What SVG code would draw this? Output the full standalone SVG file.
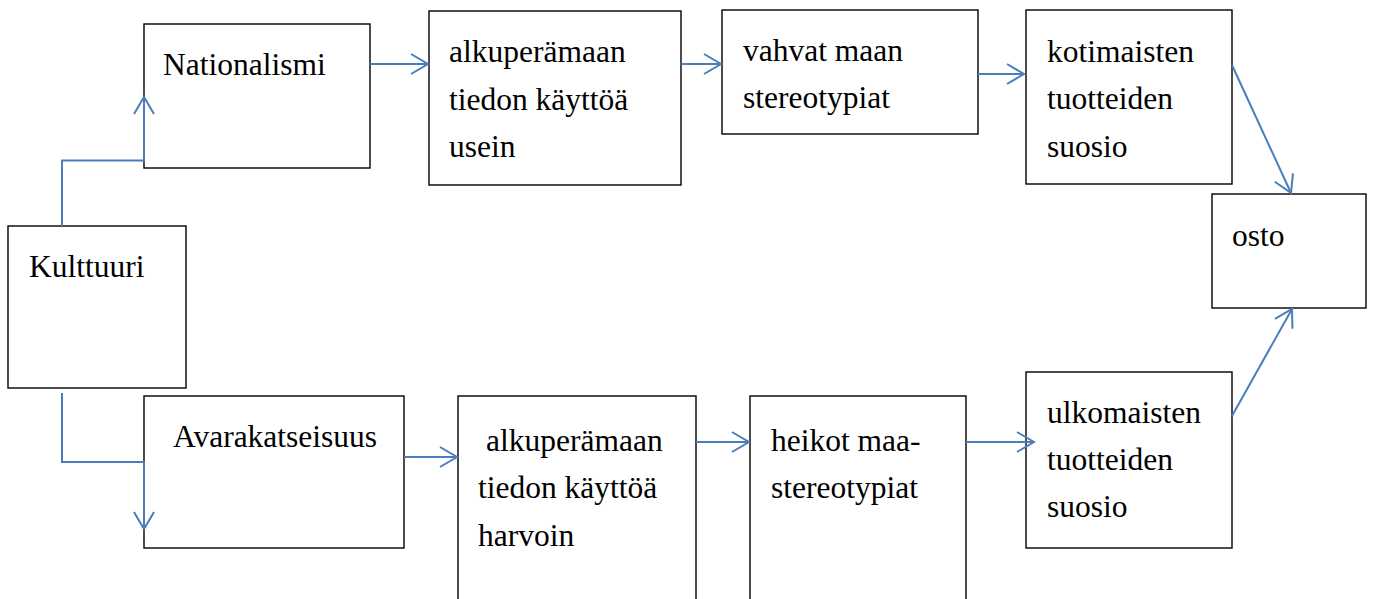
<svg xmlns="http://www.w3.org/2000/svg" width="1374" height="599" viewBox="0 0 1374 599">
  <style>
    .box { fill: #ffffff; stroke: #000000; stroke-width: 1.4; }
    .lbl { font-family: "Liberation Serif", "Times New Roman", serif; font-size: 31.5px; fill: #000000; }
    .conn { fill: none; stroke: #4a7ebb; stroke-width: 2; marker-end: url(#open); }
  </style>
  <defs>
    <marker id="open" markerUnits="userSpaceOnUse" markerWidth="40" markerHeight="40" viewBox="-20 -20 40 40" refX="0" refY="0" orient="auto" overflow="visible">
      <path d="M-17,-10 L0,0 L-17,10" fill="none" stroke="#4a7ebb" stroke-width="2"/>
    </marker>
  </defs>
  <rect width="1374" height="599" fill="#ffffff"/>

  <g id="kulttuuri">
    <rect class="box" x="8" y="226" width="178" height="162"/>
    <text class="lbl" x="29" y="277">Kulttuuri</text>
  </g>

  <g id="nationalismi">
    <rect class="box" x="144" y="24" width="226" height="144"/>
    <text class="lbl" x="163" y="75">Nationalismi</text>
  </g>

  <g id="alkupera-usein">
    <rect class="box" x="429" y="11" width="252" height="174"/>
    <text class="lbl" x="449" y="62">alkuperämaan</text>
    <text class="lbl" x="449" y="110">tiedon käyttöä</text>
    <text class="lbl" x="449" y="157">usein</text>
  </g>

  <g id="vahvat">
    <rect class="box" x="722" y="10" width="256" height="124"/>
    <text class="lbl" x="743" y="61">vahvat maan</text>
    <text class="lbl" x="743" y="108">stereotypiat</text>
  </g>

  <g id="kotimaisten">
    <rect class="box" x="1026" y="10" width="206" height="174"/>
    <text class="lbl" x="1047" y="62">kotimaisten</text>
    <text class="lbl" x="1047" y="109">tuotteiden</text>
    <text class="lbl" x="1047" y="157">suosio</text>
  </g>

  <g id="osto">
    <rect class="box" x="1212" y="194" width="154" height="114"/>
    <text class="lbl" x="1232" y="246">osto</text>
  </g>

  <g id="avarakatseisuus">
    <rect class="box" x="144" y="396" width="260" height="152"/>
    <text class="lbl" x="173" y="447">Avarakatseisuus</text>
  </g>

  <g id="alkupera-harvoin">
    <rect class="box" x="458" y="396" width="238" height="220"/>
    <text class="lbl" x="486" y="451">alkuperämaan</text>
    <text class="lbl" x="478" y="498">tiedon käyttöä</text>
    <text class="lbl" x="478" y="546">harvoin</text>
  </g>

  <g id="heikot">
    <rect class="box" x="750" y="396" width="216" height="220"/>
    <text class="lbl" x="771" y="451">heikot maa-</text>
    <text class="lbl" x="771" y="498">stereotypiat</text>
  </g>

  <g id="ulkomaisten">
    <rect class="box" x="1026" y="372" width="206" height="176"/>
    <text class="lbl" x="1047" y="423">ulkomaisten</text>
    <text class="lbl" x="1047" y="470">tuotteiden</text>
    <text class="lbl" x="1047" y="517">suosio</text>
  </g>

  <!-- connectors, drawn over the box outlines -->
  <g id="connectors">
    <path class="conn" d="M62,226 V160.5 H144 V97"/>
    <path class="conn" d="M62,393 V462 H144 V529"/>
    <path class="conn" d="M370,64 H428"/>
    <path class="conn" d="M681,64 H721"/>
    <path class="conn" d="M978,74 H1024"/>
    <path class="conn" d="M1232,65 L1291,193"/>
    <path class="conn" d="M404,457 H457"/>
    <path class="conn" d="M696,442 H749"/>
    <path class="conn" d="M966,442 H1034"/>
    <path class="conn" d="M1232,416 L1292,309"/>
  </g>
</svg>
